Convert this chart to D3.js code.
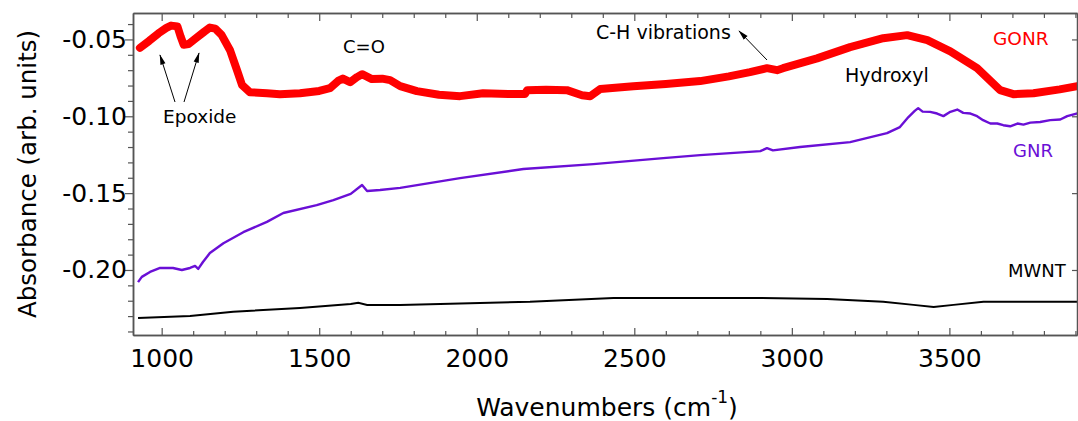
<!DOCTYPE html>
<html>
<head>
<meta charset="utf-8">
<script src="https://cdn.jsdelivr.net/npm/d3@7"></script>
<style>
  body { margin: 0; background: #fff; }
  text { font-family: "DejaVu Sans", sans-serif; }
</style>
</head>
<body>
<svg id="main" width="1078" height="421"></svg>
<script>
// wavenumber (cm-1), absorbance
var gonr = [[931,-0.0555],[960,-0.051],[990,-0.046],[1015,-0.0425],[1030,-0.041],[1050,-0.0415],[1060,-0.048],[1070,-0.0535],[1085,-0.053],[1110,-0.049],[1135,-0.045],[1153,-0.0423],[1170,-0.043],[1190,-0.047],[1217,-0.057],[1239,-0.070],[1255,-0.0797],[1280,-0.0843],[1334,-0.085],[1375,-0.0856],[1439,-0.085],[1500,-0.0835],[1534,-0.0817],[1560,-0.077],[1575,-0.0755],[1598,-0.0778],[1620,-0.0745],[1636,-0.0726],[1667,-0.0758],[1700,-0.0755],[1725,-0.0765],[1757,-0.0804],[1810,-0.0836],[1880,-0.086],[1947,-0.0869],[2020,-0.085],[2100,-0.0855],[2153,-0.0855],[2160,-0.083],[2220,-0.0828],[2286,-0.083],[2334,-0.0863],[2360,-0.0869],[2392,-0.0823],[2497,-0.0804],[2600,-0.079],[2709,-0.0771],[2800,-0.074],[2867,-0.0713],[2921,-0.0687],[2953,-0.070],[2972,-0.0687],[3080,-0.0623],[3185,-0.055],[3290,-0.0492],[3366,-0.0472],[3430,-0.0505],[3503,-0.0577],[3588,-0.0687],[3661,-0.083],[3703,-0.0856],[3767,-0.085],[3850,-0.0825],[3906,-0.0804]];

var gnr = [[925,-0.2079],[937,-0.2045],[963,-0.2013],[995,-0.1987],[1036,-0.1987],[1064,-0.200],[1090,-0.1987],[1106,-0.1974],[1116,-0.1993],[1131,-0.1948],[1153,-0.189],[1196,-0.1826],[1259,-0.1754],[1334,-0.1687],[1386,-0.1629],[1492,-0.1578],[1545,-0.1545],[1600,-0.1505],[1636,-0.1447],[1652,-0.1486],[1693,-0.148],[1757,-0.1466],[1947,-0.1402],[2148,-0.1343],[2370,-0.1311],[2592,-0.1272],[2709,-0.1253],[2900,-0.1227],[2921,-0.1207],[2940,-0.1222],[3026,-0.120],[3185,-0.1168],[3302,-0.111],[3343,-0.107],[3370,-0.1005],[3390,-0.0965],[3401,-0.0947],[3415,-0.097],[3439,-0.0971],[3461,-0.0982],[3481,-0.0999],[3503,-0.0971],[3525,-0.0956],[3544,-0.0978],[3567,-0.0982],[3588,-0.0999],[3607,-0.1025],[3630,-0.1047],[3652,-0.1047],[3671,-0.1058],[3693,-0.1065],[3716,-0.1047],[3735,-0.1054],[3757,-0.1041],[3788,-0.1037],[3820,-0.1025],[3852,-0.1021],[3874,-0.0999],[3906,-0.0982]];

var mwnt = [[925,-0.2313],[1090,-0.2300],[1227,-0.2272],[1439,-0.2247],[1600,-0.2222],[1624,-0.2214],[1652,-0.2227],[1757,-0.2227],[2169,-0.2207],[2434,-0.2182],[2709,-0.2182],[2900,-0.2182],[3112,-0.2188],[3290,-0.2207],[3386,-0.2227],[3450,-0.224],[3513,-0.2227],[3608,-0.2207],[3906,-0.2207]];

var xTicks = [1000, 1500, 2000, 2500, 3000, 3500];
var yTicks = [-0.05, -0.10, -0.15, -0.20];

var svg = d3.select("#main")
var L = 133, R = 1077, T = 13, B = 335;

var x = d3.scaleLinear().domain([909, 3905]).range([L, R]);
var y = d3.scaleLinear().domain([-0.2423, -0.0328]).range([B, T]);

var defs = svg.append("defs");
defs.append("clipPath").attr("id", "clip")
  .append("rect").attr("x", L).attr("y", T).attr("width", R - L).attr("height", B - T);

var line = d3.line().x(function(d) { return x(d[0]); }).y(function(d) { return y(d[1]); });

var plot = svg.append("g").attr("clip-path", "url(#clip)");
plot.append("path").attr("d", line(mwnt)).attr("fill", "none").attr("stroke", "#000").attr("stroke-width", 2);
plot.append("path").attr("d", line(gnr)).attr("fill", "none").attr("stroke", "#6a0fd6").attr("stroke-width", 2.4)
  .attr("stroke-linejoin", "round");
plot.append("path").attr("d", line(gonr)).attr("fill", "none").attr("stroke", "#ff0000").attr("stroke-width", 8)
  .attr("stroke-linejoin", "round").attr("stroke-linecap", "round");

// axes
var axisColor = "#555";
var xMinor = d3.range(1000, 3901, 100).filter(function(v) { return v % 500 != 0; });
var yMinor = d3.range(-24, -3, 1).filter(function(v) { return v % 5 != 0; }).map(function(v) { return v / 100; });

function styleAxis(g) {
  g.select(".domain").attr("stroke", axisColor).attr("stroke-width", 1.5);
  g.selectAll(".tick line").attr("stroke", axisColor).attr("stroke-width", 1.2);
}

var xBottom = svg.append("g").attr("transform", "translate(0," + B + ")")
  .call(d3.axisBottom(x).tickValues(xTicks).tickSizeInner(-7).tickSizeOuter(0).tickFormat(d3.format("d")).tickPadding(14));
xBottom.call(styleAxis);
xBottom.selectAll(".tick text").attr("font-size", 25).attr("fill", "#000").attr("font-family", "DejaVu Sans");
svg.append("g").attr("transform", "translate(0," + B + ")")
  .call(d3.axisBottom(x).tickValues(xMinor).tickSizeInner(-4).tickSizeOuter(0).tickFormat(""))
  .call(styleAxis);

svg.append("g").attr("transform", "translate(0," + T + ")")
  .call(d3.axisTop(x).tickValues(xTicks).tickSizeInner(-8).tickSizeOuter(0).tickFormat(""))
  .call(styleAxis);
svg.append("g").attr("transform", "translate(0," + T + ")")
  .call(d3.axisTop(x).tickValues(xMinor).tickSizeInner(-5).tickSizeOuter(0).tickFormat(""))
  .call(styleAxis);

var yLeft = svg.append("g").attr("transform", "translate(" + L + ",0)")
  .call(d3.axisLeft(y).tickValues(yTicks).tickSizeInner(8).tickSizeOuter(0).tickFormat(d3.format(".2f")).tickPadding(-2));
yLeft.call(styleAxis);
yLeft.selectAll(".tick text").attr("font-size", 25).attr("fill", "#000").attr("font-family", "DejaVu Sans")
  .text(function(d) { return d.toFixed(2); });
svg.append("g").attr("transform", "translate(" + L + ",0)")
  .call(d3.axisLeft(y).tickValues(yMinor).tickSizeInner(5).tickSizeOuter(0).tickFormat(""))
  .call(styleAxis);

svg.append("g").attr("transform", "translate(" + R + ",0)")
  .call(d3.axisRight(y).tickValues(yTicks).tickSizeInner(-5).tickSizeOuter(0).tickFormat(""))
  .call(styleAxis);

// axis titles
var xt = svg.append("text").attr("x", 607).attr("y", 416).attr("text-anchor", "middle")
  .attr("font-size", 25).attr("fill", "#000");
xt.append("tspan").text("Wavenumbers (cm");
xt.append("tspan").attr("dy", -13).attr("font-size", 17).text("-1");
xt.append("tspan").attr("dy", 13).text(")");

svg.append("text").attr("transform", "translate(36,174) rotate(-90)").attr("text-anchor", "middle")
  .attr("font-family", "Liberation Sans, Arial, sans-serif").attr("font-size", 24.5).attr("fill", "#000")
  .text("Absorbance (arb. units)");

// annotations
function label(t, px, py, size, color) {
  svg.append("text").attr("x", px).attr("y", py).attr("font-size", size).attr("fill", color || "#000").text(t);
}
label("Epoxide", 163, 123, 18.5);
label("C=O", 343, 53, 18);
label("C-H vibrations", 596, 39, 19);
label("Hydroxyl", 845, 82, 19);
label("GONR", 993, 45, 18.5, "#ff0000");
label("GNR", 1013, 157, 18, "#6a0fd6");
label("MWNT", 1008, 277, 18);

defs.append("marker").attr("id", "arr").attr("viewBox", "0 0 12 8")
  .attr("refX", 11).attr("refY", 4).attr("markerWidth", 11).attr("markerHeight", 7).attr("orient", "auto")
  .append("path").attr("d", "M0,1 L12,4 L0,7 Z").attr("fill", "#000");

function arrow(x1, y1, x2, y2) {
  svg.append("line").attr("x1", x1).attr("y1", y1).attr("x2", x2).attr("y2", y2)
    .attr("stroke", "#000").attr("stroke-width", 1).attr("marker-end", "url(#arr)");
}
arrow(175, 102, 160, 55);
arrow(184, 102, 199, 53);
arrow(767, 60, 739, 31);
</script>
</body>
</html>
